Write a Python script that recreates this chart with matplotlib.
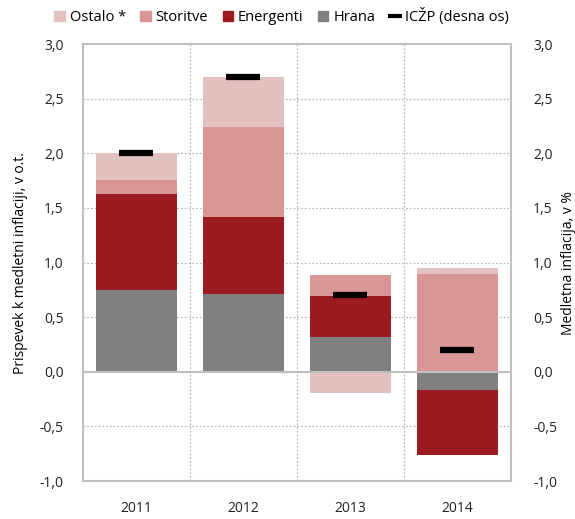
import matplotlib
matplotlib.use("Agg")
import matplotlib.pyplot as plt
from matplotlib.lines import Line2D
from matplotlib.patches import Patch
import numpy as np

plt.rcParams['font.family'] = ['Open Sans', 'DejaVu Sans']

# data
years = ['2011', '2012', '2013', '2014']
hrana = [0.75, 0.71, 0.32, -0.165]
energenti = [0.88, 0.71, 0.37, -0.60]
storitve = [0.13, 0.82, 0.20, 0.895]
ostalo = [0.24, 0.46, -0.19, 0.055]
iczp = [2.0, 2.7, 0.7, 0.2]

series = [('Hrana', hrana, '#808080'),
          ('Energenti', energenti, '#9C1B20'),
          ('Storitve', storitve, '#DA9695'),
          ('Ostalo *', ostalo, '#E2C2C1')]

fig = plt.figure(figsize=(5.75, 5.19), dpi=100)
ax = fig.add_axes([0.1443, 0.0730, 0.7444, 0.8420])

x = np.arange(len(years))
pos_bottom = np.zeros(len(years))
neg_bottom = np.zeros(len(years))
for name, vals, col in series:
    v = np.array(vals)
    bottom = np.where(v >= 0, pos_bottom, neg_bottom)
    ax.bar(x, v, bottom=bottom, width=0.76, color=col, zorder=3, linewidth=0)
    pos_bottom = pos_bottom + np.where(v >= 0, v, 0)
    neg_bottom = neg_bottom + np.where(v < 0, v, 0)

ax.set_xlim(-0.5, len(years) - 0.5)
ax.set_ylim(-1.0, 3.0)
yt = np.arange(-1.0, 3.01, 0.5)
ax.set_yticks(yt)
ax.set_yticklabels([('%.1f' % t).replace('.', ',') for t in yt])
ax.set_xticks(x)
ax.set_xticklabels(years)
ax.tick_params(length=0, labelsize=10, colors='#222222')
ax.tick_params(axis='y', pad=14)
ax.tick_params(axis='x', pad=14)

for t in yt[1:-1]:
    ax.axhline(t, color='#BBBBBB', lw=0.9, ls=(0, (1.5, 1.5)), zorder=1)
for b in [0.5, 1.5, 2.5]:
    ax.axvline(b, color='#BBBBBB', lw=0.9, ls=(0, (1.5, 1.5)), zorder=1)
ax.axhline(0, color='#BFBFBF', lw=1.5, zorder=4)

for s in ax.spines.values():
    s.set_color('#C0C0C0')
    s.set_linewidth(1.5)

ax.set_ylabel('Prispevek k medletni inflaciji, v o.t.', fontsize=10, labelpad=8)

ax2 = ax.twinx()
ax2.set_ylim(-1.0, 3.0)
ax2.set_yticks(yt)
ax2.set_yticklabels([('%.1f' % t).replace('.', ',') for t in yt])
ax2.tick_params(length=0, labelsize=10, colors='#222222', pad=16)
for s in ax2.spines.values():
    s.set_visible(False)
ax2.plot(x, iczp, ls='none', marker='_', markersize=25, markeredgewidth=4.5,
         color='black', zorder=5)
ax2.set_ylabel('Medletna inflacija, v %', fontsize=10, labelpad=3)

handles = [Patch(color=c) for _, _, c in series[::-1]]
labels = [n for n, _, _ in series[::-1]]
handles.append(Line2D([0], [0], color='black', lw=3))
labels.append('ICŽP (desna os)')
fig.legend(handles, labels, loc='center', bbox_to_anchor=(0.49, 0.968), ncol=5,
           frameon=False, fontsize=10.5, handlelength=0.7, handleheight=0.7,
           handletextpad=0.35, columnspacing=1.0)

fig.savefig('out.png', dpi=100)
